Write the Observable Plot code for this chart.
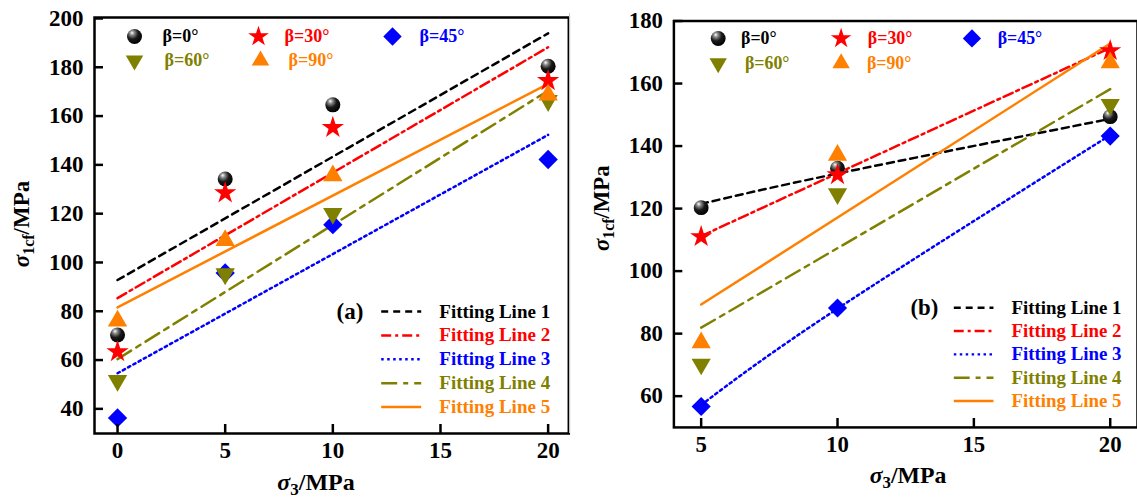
<!DOCTYPE html>
<html><head><meta charset="utf-8">
<script src="https://cdn.jsdelivr.net/npm/d3@7"></script>
<script src="https://cdn.jsdelivr.net/npm/@observablehq/plot@0.6"></script>
<style>
html,body{margin:0;padding:0;background:#fff;overflow:hidden;}
#wrap{position:relative;width:1137px;height:499px;overflow:hidden;background:#fff;}
#a{position:absolute;left:0;top:0;}
#b{position:absolute;left:570px;top:0;}
#sep{position:absolute;left:569px;top:13px;width:1px;height:420px;background:#c4c4c4;}
</style></head>
<body><div id="wrap"><div id="a"></div><div id="sep"></div><div id="b"></div></div>
<script>
// ---------- data ----------
const betaLabels = ["β=0°", "β=30°", "β=45°", "β=60°", "β=90°"];
const fitLabels = ["Fitting Line 1", "Fitting Line 2", "Fitting Line 3", "Fitting Line 4", "Fitting Line 5"];
const panelLabels = ["(a)", "(b)"];
const xTitle = ["σ", "3", "/MPa"];
const yTitle = ["σ", "1cf", "/MPa"];

// panel (a)
const sigma3A = [0, 5, 10, 20];
const aBeta0 = [70.3, 134.2, 164.6, 180.4];
const aBeta30 = [63.4, 128.5, 155.3, 174.5];
const aBeta45 = [36.3, 95.7, 115.5, 142.2];
const aBeta60 = [51.6, 95.3, 120.0, 166.3];
const aBeta90 = [76.0, 109.0, 135.6, 168.7];
const aFitX = [0, 20];
const aFit1 = [92.8, 193.9];
const aFit2 = [85.4, 188.2];
const aFit3 = [54.6, 152.3];
const aFit4 = [60.4, 170.4];
const aFit5 = [81.6, 173.2];
const aTicksX = [0, 5, 10, 15, 20];
const aTicksY = [40, 60, 80, 100, 120, 140, 160, 180, 200];

// panel (b)
const sigma3B = [5, 10, 20];
const bBeta0 = [120.3, 132.9, 149.4];
const bBeta30 = [111.0, 130.8, 170.5];
const bBeta45 = [56.7, 88.2, 143.2];
const bBeta60 = [70.2, 124.7, 153.3];
const bBeta90 = [77.1, 137.1, 166.7];
const bFitXCurve = [5, 10, 20];
const bFitXLine = [5, 20];
const bFit1 = [121.5, 131.2, 148.7];
const bFit2 = [111.2, 131.3, 171.4];
const bFit3 = [57.2, 88.0, 143.5];
const bFit4 = [81.9, 158.2];
const bFit5 = [89.3, 172.8];
const bTicksX = [5, 10, 15, 20];
const bTicksY = [60, 80, 100, 120, 140, 160, 180];

// ---------- styles ----------
const colors = ["#000000", "#ff0000", "#0000ff", "#808000", "#ff8000"];
const dashes = ["7,5", "10,4,3,4", "2.5,3.5", "16,6,5,6", null];
const FONT = "'Liberation Serif','Times New Roman',serif";

function markerStyle(i, id, legend) {
  switch (i) {
    case 0: return {symbol: "circle", r: 7.5, fill: `url(#sphere-${id})`};
    case 1: return {symbol: "star", r: legend ? 6.5 : 7, fill: colors[1]};
    case 2: return {symbol: "diamond2", r: legend ? 8.3 : 8.7, fill: colors[2]};
    case 3: return {symbol: "triangle", r: legend ? 6.5 : 7.2, fill: colors[3], rotate: 180};
    case 4: return {symbol: "triangle", r: legend ? 6.5 : 7.2, fill: colors[4]};
  }
}

const lineSymbol = {draw(ctx) { ctx.moveTo(-20, 0); ctx.lineTo(20, 0); }};

function buildPanel(cfg) {
  const rows = [];
  cfg.series.forEach((vals, i) => vals.forEach((v, j) => rows.push({x: cfg.xs[j], y: v, k: i})));
  const marks = [];
  cfg.fits.forEach((f, i) => {
    const fr = f.y.map((v, j) => ({x: f.x[j], y: v}));
    marks.push(Plot.line(fr, {x: "x", y: "y", stroke: colors[i], strokeWidth: 2.5,
      strokeDasharray: dashes[i], curve: f.x.length > 2 ? "natural" : "linear"}));
  });
  for (let i = 0; i < 5; i++) {
    marks.push(Plot.dot(rows.filter(d => d.k === i), {x: "x", y: "y", ...markerStyle(i, cfg.id, false)}));
  }
  // top legend
  cfg.topLegend.forEach((p, i) => {
    marks.push(Plot.dot([betaLabels[i]], {frameAnchor: "top-left", dx: p[0], dy: p[1], ...markerStyle(i, cfg.id, true)}));
    marks.push(Plot.text([betaLabels[i]], {frameAnchor: "top-left", dx: p[2], dy: p[1], text: d => d,
      textAnchor: "start", lineAnchor: "middle", fill: colors[i], fontSize: 18, fontWeight: "bold",
      fontFamily: FONT, ariaLabel: "beta-legend"}));
  });
  // bottom legend
  const bl = cfg.bottomLegend;
  marks.push(Plot.text([cfg.label], {frameAnchor: "top-left", dx: bl.labelX, dy: bl.y0, text: d => d,
    textAnchor: "middle", lineAnchor: "middle", fill: "black", fontSize: 23, fontWeight: "bold", fontFamily: FONT}));
  fitLabels.forEach((lab, i) => {
    const dy = bl.y0 + i * bl.step;
    marks.push(Plot.dot([lab], {frameAnchor: "top-left", dx: bl.lineX, dy, symbol: lineSymbol, r: 5,
      fill: "none", stroke: colors[i], strokeWidth: 2.5, strokeDasharray: dashes[i]}));
    marks.push(Plot.text([lab], {frameAnchor: "top-left", dx: bl.textX, dy, text: d => d,
      textAnchor: "start", lineAnchor: "middle", fill: colors[i], fontSize: 19, fontWeight: "bold", fontFamily: FONT}));
  });
  marks.push(Plot.axisX({ticks: cfg.ticksX, tickSize: -9, tickPadding: 17, strokeWidth: 2.5,
    fontSize: 23, fontWeight: "bold", fontFamily: FONT, label: null, tickFormat: d => String(d)}));
  marks.push(Plot.axisY({ticks: cfg.ticksY, tickSize: -9, tickPadding: 20, strokeWidth: 2.5,
    fontSize: 23, fontWeight: "bold", fontFamily: FONT, label: null, tickFormat: d => String(d)}));
  marks.push(Plot.frame({stroke: "black", strokeWidth: 2.5}));

  const svg = Plot.plot({
    width: cfg.width, height: 499,
    marginLeft: cfg.margin[0], marginTop: cfg.margin[1], marginRight: cfg.margin[2], marginBottom: cfg.margin[3],
    x: {domain: cfg.xDomain, label: null},
    y: {domain: cfg.yDomain, label: null},
    style: {fontFamily: FONT, color: "black", background: "transparent", overflow: "visible"},
    marks
  });

  // gradient for sphere markers
  const NS = "http://www.w3.org/2000/svg";
  const defs = document.createElementNS(NS, "defs");
  defs.innerHTML = `<radialGradient id="sphere-${cfg.id}" cx="0.38" cy="0.32" r="0.7" fx="0.33" fy="0.25">
      <stop offset="0" stop-color="#ffffff"/><stop offset="0.22" stop-color="#8a8a8a"/>
      <stop offset="0.55" stop-color="#1a1a1a"/><stop offset="1" stop-color="#000000"/></radialGradient>`;
  svg.insertBefore(defs, svg.firstChild);

  // italic beta in legend
  d3.select(svg).selectAll('g[aria-label="beta-legend"] text').each(function () {
    const t = this.textContent;
    const sel = d3.select(this);
    sel.text(null);
    sel.append("tspan").attr("font-style", "italic").text(t.slice(0, 1));
    sel.append("tspan").text(t.slice(1));
  });

  // axis titles
  const s = d3.select(svg);
  const xt = s.append("text").attr("x", cfg.xTitlePos[0]).attr("y", cfg.xTitlePos[1])
    .attr("text-anchor", "middle").attr("font-size", 24).attr("font-weight", "bold")
    .attr("font-family", FONT).attr("fill", "black");
  xt.append("tspan").attr("font-style", "italic").text(xTitle[0]);
  xt.append("tspan").attr("dy", 5).attr("font-size", 17).text(xTitle[1]);
  xt.append("tspan").attr("dy", -5).text(xTitle[2]);
  const yt = s.append("text").attr("transform", `translate(${cfg.yTitlePos[0]},${cfg.yTitlePos[1]}) rotate(-90)`)
    .attr("text-anchor", "middle").attr("font-size", 23).attr("font-weight", "bold")
    .attr("font-family", FONT).attr("fill", "black");
  yt.append("tspan").attr("font-style", "italic").text(yTitle[0]);
  yt.append("tspan").attr("dy", 5).attr("font-size", 16).text(yTitle[1]);
  yt.append("tspan").attr("dy", -5).text(yTitle[2]);
  return svg;
}

const svgA = buildPanel({
  id: "a", width: 570, margin: [94, 17, 1.7, 66],
  xDomain: [-1.07, 20.96], yDomain: [29.9, 200.4],
  xs: sigma3A, series: [aBeta0, aBeta30, aBeta45, aBeta60, aBeta90],
  fits: [aFit1, aFit2, aFit3, aFit4, aFit5].map(y => ({x: aFitX, y})),
  ticksX: aTicksX, ticksY: aTicksY, label: panelLabels[0],
  topLegend: [[40, 19, 68], [164, 19, 190], [298, 19, 325], [40, 43, 70], [166, 43, 194]],
  bottomLegend: {labelX: 255.5, lineX: 306.7, textX: 344.8, y0: 294, step: 23.9},
  xTitlePos: [316, 490], yTitlePos: [29, 224]
});
document.getElementById("a").appendChild(svgA);

const svgB = buildPanel({
  id: "b", width: 572, margin: [104.3, 20.7, 0, 68.3],
  xDomain: [4, 21], yDomain: [50, 180],
  xs: sigma3B, series: [bBeta0, bBeta30, bBeta45, bBeta60, bBeta90],
  fits: [
    {x: bFitXCurve, y: bFit1}, {x: bFitXCurve, y: bFit2}, {x: bFitXCurve, y: bFit3},
    {x: bFitXLine, y: bFit4}, {x: bFitXLine, y: bFit5}],
  ticksX: bTicksX, ticksY: bTicksY, label: panelLabels[1],
  topLegend: [[44.7, 17.6, 67.7], [168.7, 17.6, 195.7], [300.7, 17.6, 326.7], [44.7, 42.6, 71.7], [168.7, 42.6, 194.7]],
  bottomLegend: {labelX: 252.7, lineX: 302.4, textX: 340.7, y0: 289.3, step: 23.5},
  xTitlePos: [341, 487], yTitlePos: [39, 210]
});
document.getElementById("b").appendChild(svgB);
</script>
</body></html>
